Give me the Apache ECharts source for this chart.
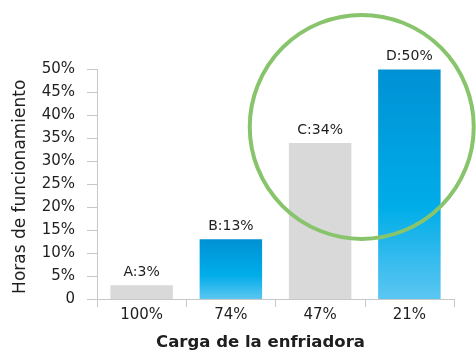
<!DOCTYPE html>
<html>
<head>
<meta charset="utf-8">
<style>
  html, body { margin: 0; padding: 0; background: #fff; }
  #chart { width: 476px; height: 352px; }
</style>
<script src="https://cdn.jsdelivr.net/npm/echarts@6/dist/echarts.min.js"></script>
</head>
<body>
<div id="chart"></div>
<script>
// Chiller load categories and operating-hours share per load level
const categories = ['100%', '74%', '47%', '21%'];
const pointNames = ['A', 'B', 'C', 'D'];
const hoursShare = [3, 13, 34, 50];
const highlighted = [false, true, false, true];
const yTicks = { min: 0, max: 50, interval: 5 };

const FONT = '"DejaVu Sans", sans-serif';
const grey = '#d9d9d9';
const blueGradient = new echarts.graphic.LinearGradient(0, 0, 0, 1, [
  { offset: 0, color: '#0091d5' },
  { offset: 0.6, color: '#00ade8' },
  { offset: 1, color: '#5cc6f2' }
]);

const chart = echarts.init(document.getElementById('chart'), null, { renderer: 'canvas' });

const option = {
  animation: false,
  grid: {
    left: 97, right: 22, top: 69.5, bottom: 53,
    containLabel: false, outerBoundsMode: 'none'
  },
  xAxis: {
    type: 'category',
    data: categories,
    name: 'Carga de la enfriadora',
    nameLocation: 'middle',
    nameGap: 35,
    nameTextStyle: {
      fontFamily: FONT, fontSize: 16.5, fontWeight: 'bold', color: '#1e1e1e',
      padding: [0, 30, 0, 0]
    },
    axisLine: { lineStyle: { color: '#c8c8c8', width: 1 } },
    axisTick: { show: true, length: 8, lineStyle: { color: '#c8c8c8' } },
    axisLabel: { fontFamily: FONT, fontSize: 15, color: '#1e1e1e', margin: 9 }
  },
  yAxis: {
    type: 'value',
    min: yTicks.min,
    max: yTicks.max,
    interval: yTicks.interval,
    name: 'Horas de funcionamiento',
    nameLocation: 'middle',
    nameGap: 68,
    nameTextStyle: {
      fontFamily: FONT, fontSize: 17, color: '#1e1e1e',
      padding: [0, 5, 0, 0]
    },
    axisLine: { show: true, lineStyle: { color: '#c8c8c8', width: 1 } },
    axisTick: { show: true, length: 10, lineStyle: { color: '#c8c8c8' } },
    splitLine: { show: false },
    axisLabel: {
      fontFamily: FONT, fontSize: 15, color: '#1e1e1e', margin: 22,
      formatter: v => (v === 0 ? '0' : v + '%')
    }
  },
  series: [{
    type: 'bar',
    barWidth: '70%',
    data: hoursShare.map((v, i) => ({
      value: v,
      itemStyle: { color: highlighted[i] ? blueGradient : grey }
    })),
    label: {
      show: true,
      position: 'top',
      distance: 6,
      fontFamily: FONT,
      fontSize: 14,
      color: '#1e1e1e',
      formatter: p => pointNames[p.dataIndex] + ':' + p.value + '%'
    }
  }]
};

chart.setOption(option);

// Green ring around the two lowest load levels (C and D)
const pC = chart.convertToPixel({ seriesIndex: 0 }, [2, 37.5]);
const pD = chart.convertToPixel({ seriesIndex: 0 }, [3, 37.5]);
const cx = (pC[0] + pD[0]) / 2 - 3;
const cy = pC[1];
chart.setOption({
  graphic: [{
    type: 'circle',
    shape: { cx: cx, cy: cy, r: 112 },
    style: { fill: 'none', stroke: '#88c46c', lineWidth: 4 },
    z: 100
  }]
});
</script>
</body>
</html>
